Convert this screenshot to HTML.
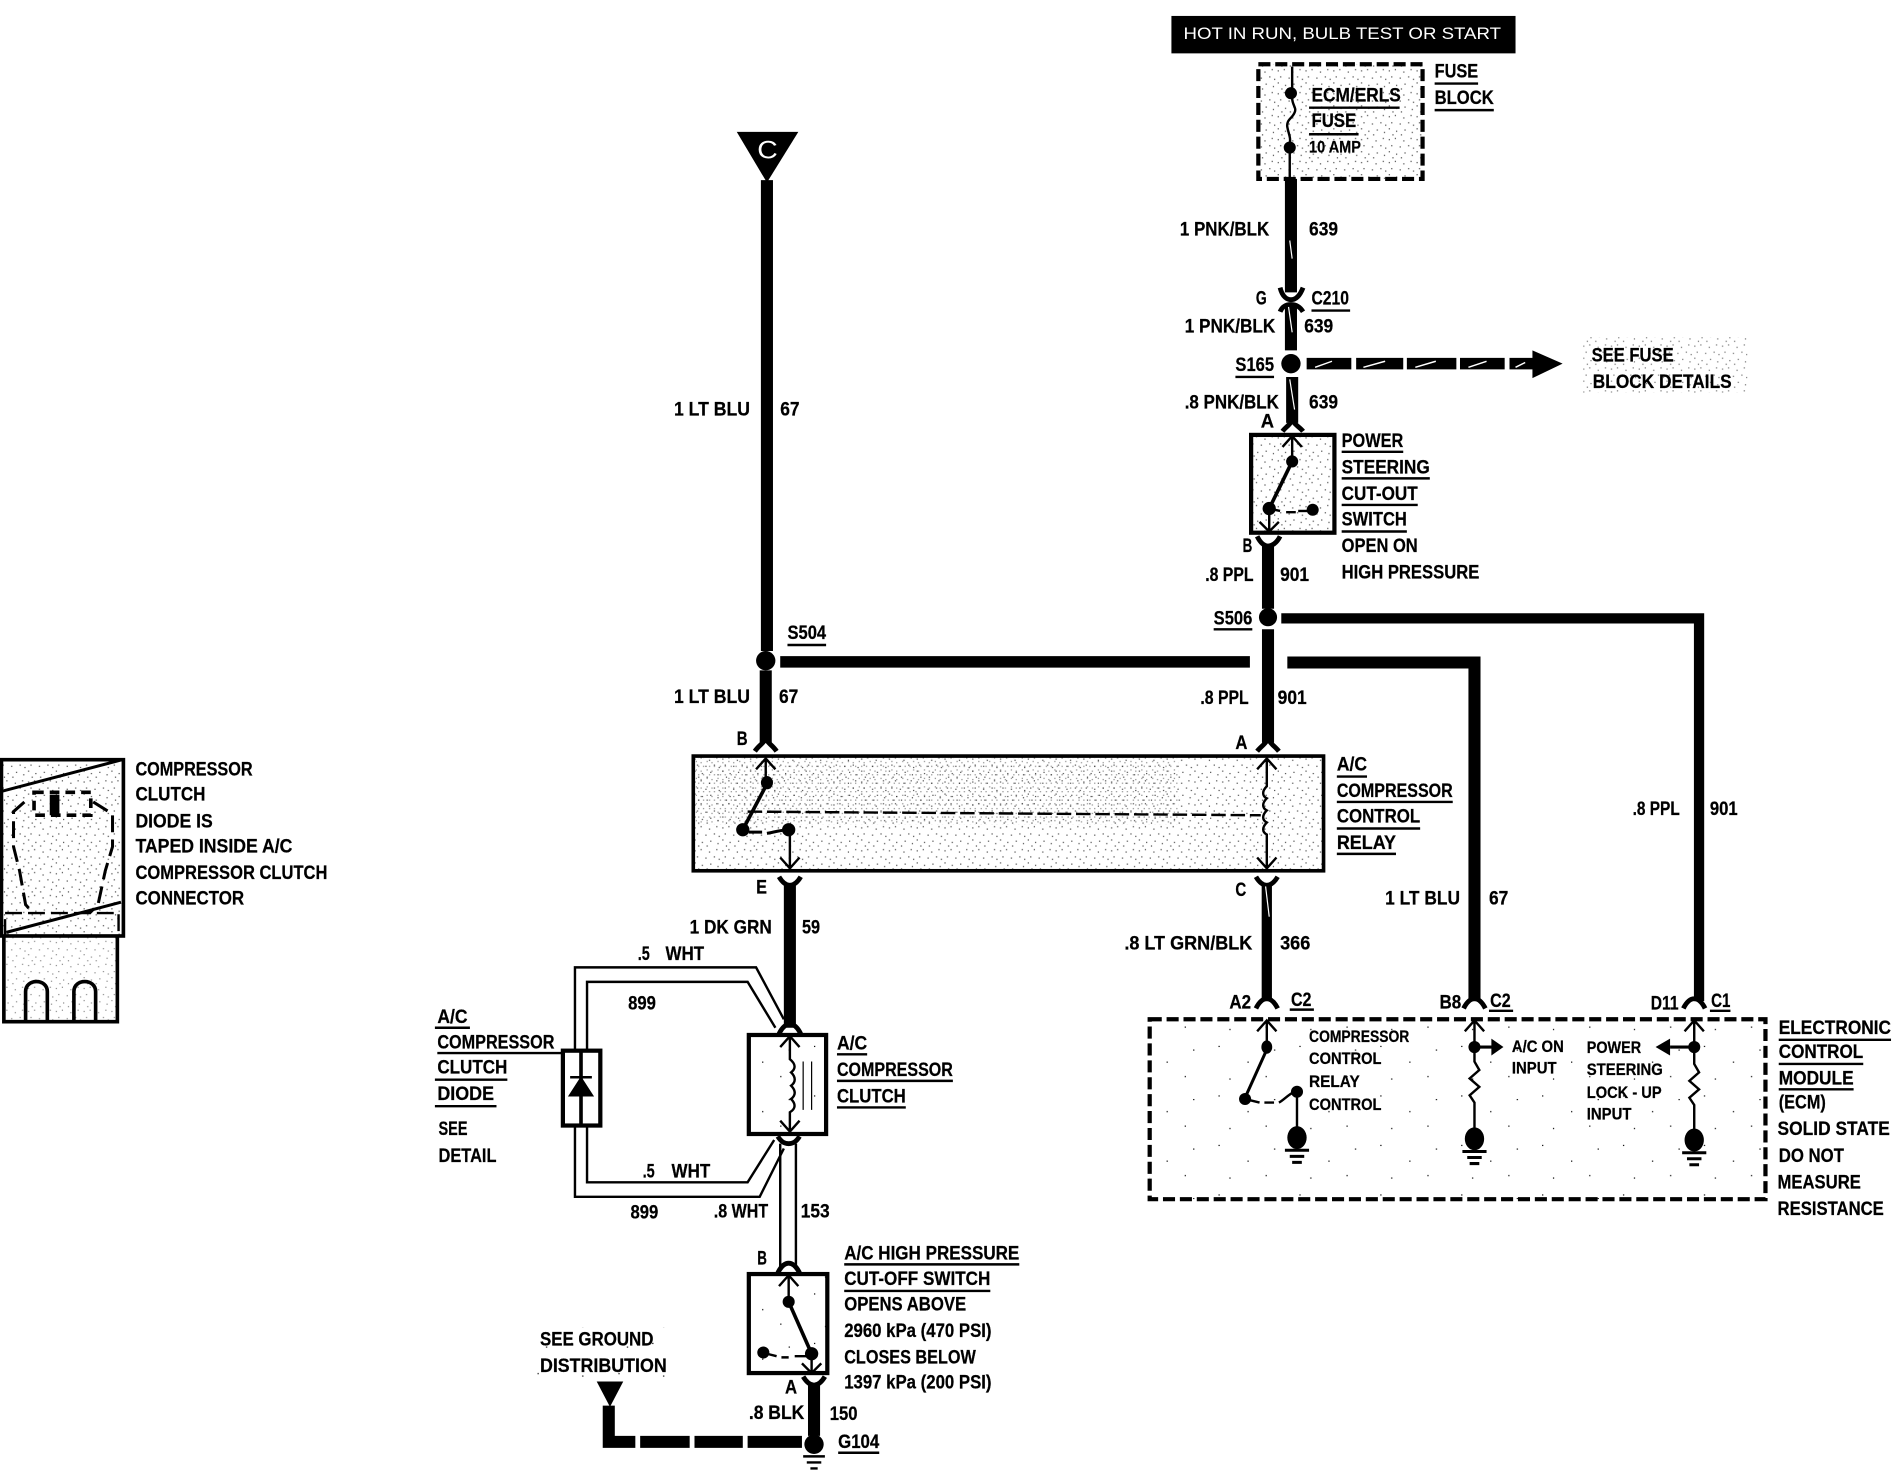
<!DOCTYPE html>
<html><head><meta charset="utf-8"><style>
html,body{margin:0;padding:0;background:#fff}
svg{display:block}
text{font-family:"Liberation Sans",sans-serif;font-weight:700;font-size:16px;fill:#000;stroke:#000;stroke-width:.2}
.s{font-size:13.5px}
.u{stroke:#000;stroke-width:2;fill:none}
.w{stroke:#000;stroke-width:10;fill:none}
.l{stroke:#000;stroke-width:2;fill:none}
.f{stroke:#000;stroke-width:4;fill:none}
</style></head><body>
<svg xmlns="http://www.w3.org/2000/svg" width="1892" height="1472" viewBox="0 0 1892 1472">
<defs>
<pattern id="d" width="23" height="19" patternUnits="userSpaceOnUse">
<g fill="#000"><rect x="1" y="2" width="1" height="1"/><rect x="6" y="1" width="1" height="1"/><rect x="13" y="3" width="1" height="1"/><rect x="19" y="1" width="1" height="1"/><rect x="3" y="7" width="1" height="1"/><rect x="10" y="8" width="1" height="1"/><rect x="17" y="7" width="1" height="1"/><rect x="21" y="9" width="1" height="1"/><rect x="1" y="12" width="1" height="1"/><rect x="7" y="14" width="1" height="1"/><rect x="14" y="13" width="1" height="1"/><rect x="20" y="15" width="1" height="1"/><rect x="4" y="17" width="1" height="1"/><rect x="11" y="17" width="1" height="1"/></g>
</pattern>
<pattern id="e" width="9" height="7" patternUnits="userSpaceOnUse">
<g fill="#000"><rect x="1" y="1" width="1" height="1"/><rect x="5" y="2" width="1" height="1"/><rect x="3" y="5" width="1" height="1"/><rect x="7" y="5" width="1" height="1"/></g>
</pattern>
<pattern id="n" width="67" height="41" patternUnits="userSpaceOnUse">
<g fill="#000"><rect x="5" y="6" width="1" height="1"/><rect x="29" y="19" width="1" height="1"/><rect x="51" y="9" width="1" height="1"/><rect x="14" y="33" width="1" height="1"/><rect x="44" y="31" width="1" height="1"/></g>
</pattern>
<g id="gr"><ellipse cx="0" cy="0" rx="8" ry="9.500" fill="#000"/><path d="M-10,10.500H10M-6,15.500H6M-4,20.500H4" stroke="#000" stroke-width="2.500"/></g>
</defs>
<rect width="1892" height="1472" fill="#fff"/>
<g transform="scale(1.2074) translate(-.8,-.8)">

<!-- header -->
<rect x="971" y="14" width="285" height="31" fill="#000"/>
<text x="981" y="33" textLength="263" lengthAdjust="spacingAndGlyphs" style="fill:#fff;stroke:none;font-weight:400;font-size:14px">HOT IN RUN, BULB TEST OR START</text>

<!-- fuse block -->
<rect x="1043" y="54" width="136" height="95" fill="url(#d)" opacity=".7"/>
<rect x="1043" y="54" width="136" height="95" fill="none" stroke="#000" stroke-width="3.500" stroke-dasharray="10 4"/>
<path class="l" d="M1071,56V82C1071,88 1075,90 1073,94C1071,99 1066,100 1067,106C1068,112 1070,114 1069,120V150"/>
<circle cx="1070" cy="78" r="5"/><circle cx="1069" cy="123" r="5"/>
<text x="1087" y="85" textLength="74" lengthAdjust="spacingAndGlyphs">ECM/ERLS</text><path class="u" d="M1085,90H1160"/>
<text x="1087" y="106" textLength="37" lengthAdjust="spacingAndGlyphs">FUSE</text><path class="u" d="M1085,112H1126"/>
<text class="s" x="1085" y="127" textLength="43" lengthAdjust="spacingAndGlyphs">10 AMP</text>
<text x="1189" y="65" textLength="36" lengthAdjust="spacingAndGlyphs">FUSE</text><path class="u" d="M1189,70H1225"/>
<text x="1189" y="87" textLength="49" lengthAdjust="spacingAndGlyphs">BLOCK</text><path class="u" d="M1189,92H1238"/>

<!-- top vertical -->
<path class="w" d="M1070,149V243"/>
<path class="f" d="M1061,239C1063,247 1067,249 1070,249C1073,249 1077,247 1080,239"/>
<path class="f" d="M1061,259C1063,254 1067,253 1070,253C1073,253 1077,254 1080,259"/>
<path class="w" d="M1070,254V291"/>
<circle cx="1070" cy="302" r="8"/>
<path class="w" d="M1071,313V351"/>
<path class="f" d="M1071,346C1071,352 1066,354 1063,358M1071,346C1071,352 1077,354 1080,358"/>
<path d="M1068,255L1071,276M1069,315L1073,340M1069,200L1071,215" stroke="#fff" stroke-width="1"/>
<path d="M1083,302H1120M1124,302H1163M1166,302H1207M1210,302H1247M1251,302H1272" stroke="#000" stroke-width="9.500"/>
<path d="M1090,305L1104,300M1130,305L1148,300M1173,305L1190,300M1217,305L1232,300M1256,305L1264,301" stroke="#fff" stroke-width="1.200"/>
<path d="M1270,291L1295,302L1270,314Z" fill="#000"/>
<rect x="1312" y="280" width="136" height="46" fill="url(#d)" opacity=".55"/>
<text x="1319" y="300" textLength="68" lengthAdjust="spacingAndGlyphs">SEE FUSE</text>
<text x="1320" y="322" textLength="115" lengthAdjust="spacingAndGlyphs">BLOCK DETAILS</text>

<text x="978" y="196" textLength="74" lengthAdjust="spacingAndGlyphs">1 PNK/BLK</text>
<text x="1085" y="196" textLength="24" lengthAdjust="spacingAndGlyphs">639</text>
<text x="1041" y="253" textLength="9" lengthAdjust="spacingAndGlyphs">G</text>
<text x="1087" y="253" textLength="31" lengthAdjust="spacingAndGlyphs">C210</text><path class="u" d="M1087,258H1119"/>
<text x="982" y="276" textLength="75" lengthAdjust="spacingAndGlyphs">1 PNK/BLK</text>
<text x="1081" y="276" textLength="24" lengthAdjust="spacingAndGlyphs">639</text>
<text x="1024" y="308" textLength="32" lengthAdjust="spacingAndGlyphs">S165</text><path class="u" d="M1024,313H1056"/>
<text x="982" y="339" textLength="78" lengthAdjust="spacingAndGlyphs">.8 PNK/BLK</text>
<text x="1085" y="339" textLength="24" lengthAdjust="spacingAndGlyphs">639</text>
<text x="1045" y="355" textLength="11" lengthAdjust="spacingAndGlyphs">A</text>

<!-- power steering switch -->
<rect x="1037" y="361" width="69" height="81" fill="url(#d)" opacity=".7"/>
<rect x="1037" y="361" width="69" height="81" fill="none" stroke="#000" stroke-width="3.500"/>
<path class="l" d="M1071,362V386M1063,371L1071,362L1079,371"/>
<circle cx="1071" cy="383" r="5"/>
<path d="M1071,383L1052,422" stroke="#000" stroke-width="3"/>
<circle cx="1052" cy="422" r="5.500"/>
<path class="l" d="M1052,422L1061,424M1066,425H1074"/>
<circle cx="1088" cy="423" r="5"/><path d="M1076,424H1088" stroke="#000" stroke-width="2"/>
<path class="l" d="M1052,422V441M1044,433L1052,441L1060,433"/>
<path class="f" d="M1042,445C1045,451 1048,453 1051,453C1054,453 1058,451 1061,445"/>
<path class="w" d="M1051,452V505"/>
<circle cx="1051" cy="512" r="7.500"/>
<path class="w" d="M1051,522V616"/>
<path class="f" d="M1051,610C1051,616 1046,618 1042,623M1051,610C1051,616 1056,618 1060,623"/>
<text x="1112" y="371" textLength="51" lengthAdjust="spacingAndGlyphs">POWER</text><path class="u" d="M1112,375H1163"/>
<text x="1112" y="393" textLength="73" lengthAdjust="spacingAndGlyphs">STEERING</text><path class="u" d="M1112,397H1185"/>
<text x="1112" y="415" textLength="63" lengthAdjust="spacingAndGlyphs">CUT-OUT</text><path class="u" d="M1112,419H1175"/>
<text x="1112" y="436" textLength="54" lengthAdjust="spacingAndGlyphs">SWITCH</text><path class="u" d="M1112,441H1166"/>
<text x="1112" y="458" textLength="63" lengthAdjust="spacingAndGlyphs">OPEN ON</text>
<text x="1112" y="480" textLength="114" lengthAdjust="spacingAndGlyphs">HIGH PRESSURE</text>
<text x="1030" y="458" textLength="8" lengthAdjust="spacingAndGlyphs">B</text>
<text x="999" y="482" textLength="40" lengthAdjust="spacingAndGlyphs">.8 PPL</text>
<text x="1061" y="482" textLength="24" lengthAdjust="spacingAndGlyphs">901</text>
<text x="1006" y="518" textLength="32" lengthAdjust="spacingAndGlyphs">S506</text><path class="u" d="M1006,522H1038"/>

<!-- S506 and right wires -->
<path d="M1062,513H1408V830" stroke="#000" stroke-width="8.500" fill="none"/>
<path d="M647,549H1036" stroke="#000" stroke-width="9.500"/>
<path class="w" d="M1067,549.500H1222V830"/>
<text x="1353" y="676" textLength="39" lengthAdjust="spacingAndGlyphs">.8 PPL</text>
<text x="1417" y="676" textLength="23" lengthAdjust="spacingAndGlyphs">901</text>
<text x="1148" y="750" textLength="62" lengthAdjust="spacingAndGlyphs">1 LT BLU</text>
<text x="1234" y="750" textLength="16" lengthAdjust="spacingAndGlyphs">67</text>

<!-- C and left column -->
<path d="M611,110H662L636,152Z"/>
<text x="628" y="132" textLength="17" lengthAdjust="spacingAndGlyphs" style="fill:#fff;stroke:none;font-weight:400;font-size:21px">C</text>
<path class="w" d="M636,150V540"/>
<circle cx="635" cy="548" r="8"/>
<path class="w" d="M635,556V616"/>
<path class="f" d="M635,610C635,616 630,617 626,623M635,610C635,616 640,617 644,623"/>
<text x="559" y="345" textLength="63" lengthAdjust="spacingAndGlyphs">1 LT BLU</text>
<text x="647" y="345" textLength="16" lengthAdjust="spacingAndGlyphs">67</text>
<text x="653" y="530" textLength="32" lengthAdjust="spacingAndGlyphs">S504</text><path class="u" d="M653,535H685"/>
<text x="559" y="583" textLength="63" lengthAdjust="spacingAndGlyphs">1 LT BLU</text>
<text x="646" y="583" textLength="16" lengthAdjust="spacingAndGlyphs">67</text>
<text x="995" y="584" textLength="40" lengthAdjust="spacingAndGlyphs">.8 PPL</text>
<text x="1059" y="584" textLength="24" lengthAdjust="spacingAndGlyphs">901</text>
<text x="611" y="618" textLength="9" lengthAdjust="spacingAndGlyphs">B</text>
<text x="1024" y="621" textLength="10" lengthAdjust="spacingAndGlyphs">A</text>

<!-- relay -->
<rect x="575" y="627" width="522" height="95" fill="url(#d)" opacity=".7"/>
<rect x="577" y="629" width="400" height="55" fill="url(#e)" opacity=".45"/>
<rect x="575" y="627" width="522" height="95" fill="none" stroke="#000" stroke-width="3"/>
<path class="l" d="M635,629V650M627,638L635,629L643,638"/>
<ellipse cx="636" cy="649" rx="5" ry="5.500"/>
<path d="M636,650L616,688" stroke="#000" stroke-width="3"/>
<circle cx="616" cy="688" r="5.500"/>
<path d="M621,690H632M636,691C642,690 648,688 655,688" stroke="#000" stroke-width="2.500" fill="none"/>
<circle cx="654" cy="688" r="5.500"/>
<path class="l" d="M655,690V720M647,711L655,720L663,711"/>
<path d="M620,673L1045,676" stroke="#000" stroke-width="2" stroke-dasharray="12 4"/>
<path class="l" d="M1050,629V652C1046,656 1046,660 1050,662C1046,666 1046,670 1050,672C1046,676 1046,680 1050,682C1046,686 1046,690 1050,692V720M1042,638L1050,629L1058,638M1042,711L1050,720L1058,711"/>
<text x="1108" y="639" textLength="25" lengthAdjust="spacingAndGlyphs">A/C</text><path class="u" d="M1108,644H1133"/>
<text x="1108" y="661" textLength="96" lengthAdjust="spacingAndGlyphs">COMPRESSOR</text><path class="u" d="M1108,665H1204"/>
<text x="1108" y="682" textLength="69" lengthAdjust="spacingAndGlyphs">CONTROL</text><path class="u" d="M1108,687H1177"/>
<text x="1108" y="704" textLength="49" lengthAdjust="spacingAndGlyphs">RELAY</text><path class="u" d="M1108,708H1157"/>

<!-- E and C -->
<path class="f" d="M646,727C649,732 652,734 655,734C658,734 661,732 664,727"/>
<path class="w" d="M655,733V852"/>
<text x="627" y="741" textLength="9" lengthAdjust="spacingAndGlyphs">E</text>
<text x="572" y="774" textLength="68" lengthAdjust="spacingAndGlyphs">1 DK GRN</text>
<text x="665" y="774" textLength="15" lengthAdjust="spacingAndGlyphs">59</text>
<path class="f" d="M1041,727C1044,732 1047,734 1050,734C1053,734 1056,732 1059,727"/>
<path d="M1050,733V830" stroke="#000" stroke-width="8.500"/>
<path d="M1049,735L1052,760" stroke="#fff" stroke-width="1"/>
<text x="1024" y="743" textLength="9" lengthAdjust="spacingAndGlyphs">C</text>
<text x="932" y="787" textLength="106" lengthAdjust="spacingAndGlyphs">.8 LT GRN/BLK</text>
<text x="1061" y="787" textLength="25" lengthAdjust="spacingAndGlyphs">366</text>

<!-- white wires -->
<path class="l" d="M477,870V802H627L650,845M487,870V814H620L643,852"/>
<path class="l" d="M477,934V992H630L650,952M487,934V980H620L642,945"/>
<text x="529" y="796" textLength="10" lengthAdjust="spacingAndGlyphs">.5</text>
<text x="552" y="796" textLength="32" lengthAdjust="spacingAndGlyphs">WHT</text>
<text x="521" y="837" textLength="23" lengthAdjust="spacingAndGlyphs">899</text>
<text x="533" y="976" textLength="10" lengthAdjust="spacingAndGlyphs">.5</text>
<text x="557" y="976" textLength="32" lengthAdjust="spacingAndGlyphs">WHT</text>
<text x="523" y="1010" textLength="23" lengthAdjust="spacingAndGlyphs">899</text>

<!-- diode -->
<rect x="467" y="871" width="31" height="62" fill="#fff" stroke="#000" stroke-width="3.500"/>
<path d="M482,871V933" stroke="#000" stroke-width="3"/>
<path d="M473,908H491L482,894ZM473,893H491" stroke="#000" stroke-width="2"/>
<text x="363" y="848" textLength="25" lengthAdjust="spacingAndGlyphs">A/C</text><path class="u" d="M361,852H390"/>
<text x="363" y="869" textLength="97" lengthAdjust="spacingAndGlyphs">COMPRESSOR</text><path class="u" d="M363,873H466"/>
<text x="363" y="890" textLength="58" lengthAdjust="spacingAndGlyphs">CLUTCH</text><path class="u" d="M361,895H421"/>
<text x="363" y="912" textLength="47" lengthAdjust="spacingAndGlyphs">DIODE</text><path class="u" d="M361,917H412"/>
<text x="364" y="941" textLength="24" lengthAdjust="spacingAndGlyphs">SEE</text>
<text x="364" y="963" textLength="48" lengthAdjust="spacingAndGlyphs">DETAIL</text>

<!-- clutch -->
<path class="f" d="M646,857C649,851 652,849 655,849C658,849 661,851 664,857"/>
<rect x="621" y="858" width="64" height="82" fill="url(#n)"/>
<rect x="621" y="858" width="64" height="82" fill="none" stroke="#000" stroke-width="3.500"/>
<path class="l" d="M655,859V878C660,882 660,886 656,889C660,893 660,897 656,900C660,904 660,908 656,911C660,915 660,919 655,922V938M647,868L655,859L663,868M647,929L655,938L663,929"/>
<path d="M666,880V920M673,880V920" stroke="#000" stroke-width="1"/>
<text x="694" y="870" textLength="25" lengthAdjust="spacingAndGlyphs">A/C</text><path class="u" d="M694,874H719"/>
<text x="694" y="892" textLength="96" lengthAdjust="spacingAndGlyphs">COMPRESSOR</text><path class="u" d="M694,896H790"/>
<text x="694" y="914" textLength="57" lengthAdjust="spacingAndGlyphs">CLUTCH</text><path class="u" d="M694,918H751"/>
<path class="f" d="M645,942C648,947 651,948 654,948C657,948 660,947 663,942"/>
<path class="l" d="M647,948V1050M660,948V1050"/>
<path class="f" d="M645,1055C648,1049 651,1047 654,1047C657,1047 660,1049 663,1055"/>
<text x="592" y="1009" textLength="45" lengthAdjust="spacingAndGlyphs">.8 WHT</text>
<text x="664" y="1009" textLength="24" lengthAdjust="spacingAndGlyphs">153</text>
<text x="628" y="1048" textLength="8" lengthAdjust="spacingAndGlyphs">B</text>

<!-- HP switch -->
<rect x="621" y="1056" width="65" height="82" fill="url(#n)"/>
<rect x="621" y="1056" width="65" height="82" fill="none" stroke="#000" stroke-width="3.500"/>
<path class="l" d="M654,1057V1079M646,1066L654,1057L662,1066"/>
<circle cx="654" cy="1079" r="5"/>
<path d="M654,1079L673,1122" stroke="#000" stroke-width="3"/>
<circle cx="673" cy="1122" r="5.500"/>
<circle cx="633" cy="1121" r="5"/>
<path class="l" d="M636,1122L644,1124M648,1125H654M659,1124H670"/>
<path class="l" d="M673,1122V1138M665,1130L673,1138L681,1130"/>
<path class="f" d="M666,1141C669,1146 672,1148 675,1148C678,1148 681,1146 684,1141"/>
<path class="w" d="M675,1147V1190"/>
<text x="700" y="1044" textLength="145" lengthAdjust="spacingAndGlyphs">A/C HIGH PRESSURE</text><path class="u" d="M700,1048H845"/>
<text x="700" y="1065" textLength="121" lengthAdjust="spacingAndGlyphs">CUT-OFF SWITCH</text><path class="u" d="M700,1070H821"/>
<text x="700" y="1086" textLength="101" lengthAdjust="spacingAndGlyphs">OPENS ABOVE</text>
<text x="700" y="1108" textLength="122" lengthAdjust="spacingAndGlyphs">2960 kPa (470 PSI)</text>
<text x="700" y="1130" textLength="109" lengthAdjust="spacingAndGlyphs">CLOSES BELOW</text>
<text x="700" y="1151" textLength="122" lengthAdjust="spacingAndGlyphs">1397 kPa (200 PSI)</text>
<text x="651" y="1155" textLength="10" lengthAdjust="spacingAndGlyphs">A</text>
<text x="621" y="1176" textLength="46" lengthAdjust="spacingAndGlyphs">.8 BLK</text>
<text x="688" y="1177" textLength="23" lengthAdjust="spacingAndGlyphs">150</text>
<text x="695" y="1200" textLength="34" lengthAdjust="spacingAndGlyphs">G104</text><path class="u" d="M695,1204H729"/>
<circle cx="675" cy="1197" r="8"/>
<path d="M666,1207H684M669,1212H681M672,1217H678" stroke="#000" stroke-width="2"/>
<path d="M505,1165V1195H527M531,1195H572M576,1195H616M620,1195H665" stroke="#000" stroke-width="10" fill="none"/>
<path d="M495,1145H517L506,1166Z"/>
<rect x="440" y="1100" width="122" height="42" fill="url(#n)"/>
<text x="448" y="1115" textLength="94" lengthAdjust="spacingAndGlyphs">SEE GROUND</text>
<text x="448" y="1137" textLength="105" lengthAdjust="spacingAndGlyphs">DISTRIBUTION</text>

<!-- ECM -->
<rect x="953" y="845" width="510" height="149" fill="url(#n)"/>
<rect x="953" y="845" width="510" height="149" fill="none" stroke="#000" stroke-width="3.500" stroke-dasharray="10 4"/>
<path class="f" d="M1041,836C1044,830 1047,828 1050,828C1053,828 1056,830 1059,836M1213,836C1216,830 1219,828 1222,828C1225,828 1228,830 1231,836M1395,836C1398,830 1401,828 1404,828C1407,828 1410,830 1413,836"/>
<path class="l" d="M1050,846V868M1042,855L1050,846L1058,855"/>
<ellipse cx="1050" cy="868" rx="4.500" ry="5.500"/>
<path d="M1050,870L1032,910" stroke="#000" stroke-width="2.500"/>
<circle cx="1032" cy="911" r="5"/>
<path class="l" d="M1036,912L1044,914M1048,914H1056M1060,914C1064,912 1068,907 1073,905"/>
<circle cx="1075" cy="905" r="5"/>
<path class="l" d="M1075,905V936"/>
<use href="#gr" x="1075" y="943"/>

<path class="l" d="M1222,846V880L1226,887L1218,894L1226,901L1218,908L1222,914V936M1214,855L1222,846L1230,855"/>
<circle cx="1222" cy="868" r="5"/>
<path d="M1222,868H1238" stroke="#000" stroke-width="2.500"/>
<path d="M1236,861L1246,868L1236,875Z"/>
<use href="#gr" x="1222" y="944"/>

<path class="l" d="M1404,846V882L1408,889L1400,896L1408,903L1400,910L1404,916V937M1396,855L1404,846L1412,855"/>
<circle cx="1404" cy="868" r="5"/>
<path d="M1404,868H1384" stroke="#000" stroke-width="2.500"/>
<path d="M1384,861L1372,868L1384,875Z"/>
<use href="#gr" x="1404" y="945"/>

<text x="1019" y="836" textLength="18" lengthAdjust="spacingAndGlyphs">A2</text>
<text x="1070" y="834" textLength="17" lengthAdjust="spacingAndGlyphs">C2</text><path class="u" d="M1069,837H1089"/>
<text x="1193" y="836" textLength="18" lengthAdjust="spacingAndGlyphs">B8</text>
<text x="1235" y="835" textLength="17" lengthAdjust="spacingAndGlyphs">C2</text><path class="u" d="M1234,838H1254"/>
<text x="1368" y="837" textLength="23" lengthAdjust="spacingAndGlyphs">D11</text>
<text x="1418" y="835" textLength="16" lengthAdjust="spacingAndGlyphs">C1</text><path class="u" d="M1417,838H1434"/>
<text class="s" x="1085" y="864" textLength="83" lengthAdjust="spacingAndGlyphs">COMPRESSOR</text>
<text class="s" x="1085" y="882" textLength="60" lengthAdjust="spacingAndGlyphs">CONTROL</text>
<text class="s" x="1085" y="901" textLength="42" lengthAdjust="spacingAndGlyphs">RELAY</text>
<text class="s" x="1085" y="920" textLength="60" lengthAdjust="spacingAndGlyphs">CONTROL</text>
<text class="s" x="1253" y="872" textLength="43" lengthAdjust="spacingAndGlyphs">A/C ON</text>
<text class="s" x="1253" y="890" textLength="37" lengthAdjust="spacingAndGlyphs">INPUT</text>
<text class="s" x="1315" y="873" textLength="45" lengthAdjust="spacingAndGlyphs">POWER</text>
<text class="s" x="1315" y="891" textLength="63" lengthAdjust="spacingAndGlyphs">STEERING</text>
<text class="s" x="1315" y="910" textLength="62" lengthAdjust="spacingAndGlyphs">LOCK - UP</text>
<text class="s" x="1315" y="928" textLength="37" lengthAdjust="spacingAndGlyphs">INPUT</text>
<text x="1474" y="857" textLength="93" lengthAdjust="spacingAndGlyphs">ELECTRONIC</text><path class="u" d="M1474,862H1567"/>
<text x="1474" y="877" textLength="70" lengthAdjust="spacingAndGlyphs">CONTROL</text><path class="u" d="M1474,882H1544"/>
<text x="1474" y="899" textLength="62" lengthAdjust="spacingAndGlyphs">MODULE</text><path class="u" d="M1474,903H1536"/>
<text x="1474" y="919" textLength="39" lengthAdjust="spacingAndGlyphs">(ECM)</text>
<text x="1473" y="941" textLength="93" lengthAdjust="spacingAndGlyphs">SOLID STATE</text>
<text x="1474" y="963" textLength="54" lengthAdjust="spacingAndGlyphs">DO NOT</text>
<text x="1473" y="985" textLength="69" lengthAdjust="spacingAndGlyphs">MEASURE</text>
<text x="1473" y="1007" textLength="88" lengthAdjust="spacingAndGlyphs">RESISTANCE</text>

<!-- detail at left -->
<rect x="2" y="630" width="101" height="146" fill="url(#d)" opacity=".7"/>
<rect x="4" y="776" width="94" height="71" fill="url(#d)" opacity=".45"/>
<rect x="2" y="630" width="101" height="146" fill="none" stroke="#000" stroke-width="3"/>
<path d="M3,656L102,630M6,773L101,748" stroke="#000" stroke-width="2.500"/>
<path d="M5,776V757H99V776" stroke="#000" stroke-width="2" stroke-dasharray="14 5" fill="none"/>
<path d="M4,776V847H98V776" stroke="#000" stroke-width="3" fill="none"/>
<path d="M22,847V822C22,811 40,811 40,822V847M62,847V822C62,811 80,811 80,822V847" stroke="#000" stroke-width="3" fill="none"/>
<path d="M21,665L12,673V702L17,722L22,750L28,757M78,665L94,675V702L88,722L82,750L75,757" stroke="#000" stroke-width="2.500" fill="none" stroke-dasharray="14 6"/>
<rect x="29" y="657" width="47" height="19" fill="none" stroke="#000" stroke-width="3" stroke-dasharray="8 5"/>
<rect x="42" y="659" width="8" height="17"/>
<text x="113" y="643" textLength="97" lengthAdjust="spacingAndGlyphs">COMPRESSOR</text>
<text x="113" y="664" textLength="58" lengthAdjust="spacingAndGlyphs">CLUTCH</text>
<text x="113" y="686" textLength="64" lengthAdjust="spacingAndGlyphs">DIODE IS</text>
<text x="113" y="707" textLength="130" lengthAdjust="spacingAndGlyphs">TAPED INSIDE A/C</text>
<text x="113" y="729" textLength="159" lengthAdjust="spacingAndGlyphs">COMPRESSOR CLUTCH</text>
<text x="113" y="750" textLength="90" lengthAdjust="spacingAndGlyphs">CONNECTOR</text>
</g>
</svg>
</body></html>
